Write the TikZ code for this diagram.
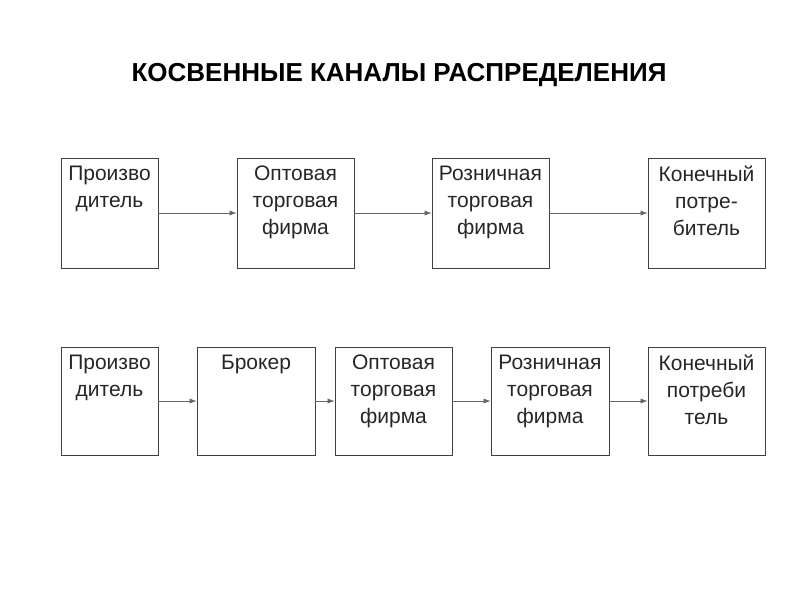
\documentclass[tikz,border=0pt]{standalone}
\usepackage{fontspec}
\setmainfont{Liberation Sans}
\usetikzlibrary{arrows.meta}
\begin{document}
\begin{tikzpicture}[x=1pt,y=-1pt,
  box/.style={draw=black!75,line width=0.8pt,minimum height=110pt,inner sep=0pt},
  txt/.style={anchor=north,align=center,font=\fontsize{21}{27}\selectfont,text=black!85,inner sep=0pt},
  arr/.style={draw=black!60,line width=0.6pt,-{Latex[length=7pt,width=5pt]}}]
\useasboundingbox (0,0) rectangle (800,600);
\node[font=\bfseries\fontsize{26}{30}\selectfont] (title) at (399,75) {КОСВЕННЫЕ КАНАЛЫ РАСПРЕДЕЛЕНИЯ};
% row 1
\node[box,minimum width=97pt] (a1) at (109.5,213) {};
\node[box,minimum width=117pt] (a2) at (295.5,213) {};
\node[box,minimum width=117pt] (a3) at (490.5,213) {};
\node[box,minimum width=117pt] (a4) at (706.5,213) {};
\node[txt] (ta1) at ([yshift=-8pt]a1.north) {Произво\\дитель};
\node[txt] (ta2) at ([yshift=-8pt]a2.north) {Оптовая\\торговая\\фирма};
\node[txt] (ta3) at ([yshift=-8pt]a3.north) {Розничная\\торговая\\фирма};
\node[txt] (ta4) at ([yshift=-8pt]a4.north) {Конечный\\потре-\\битель};
\draw[arr] (a1.east) -- (a2.west);
\draw[arr] (a2.east) -- (a3.west);
\draw[arr] (a3.east) -- (a4.west);
% row 2
\node[box,minimum width=97pt,minimum height=108pt] (b1) at (109.5,401) {};
\node[box,minimum width=118pt,minimum height=108pt] (b2) at (256,401) {};
\node[box,minimum width=117pt,minimum height=108pt] (b3) at (393.5,401) {};
\node[box,minimum width=118pt,minimum height=108pt] (b4) at (550,401) {};
\node[box,minimum width=117pt,minimum height=108pt] (b5) at (706.5,401) {};
\node[txt] (tb1) at ([yshift=-8pt]b1.north) {Произво\\дитель};
\node[txt] (tb2) at ([yshift=-8pt]b2.north) {Брокер};
\node[txt] (tb3) at ([yshift=-8pt]b3.north) {Оптовая\\торговая\\фирма};
\node[txt] (tb4) at ([yshift=-8pt]b4.north) {Розничная\\торговая\\фирма};
\node[txt] (tb5) at ([yshift=-8pt]b5.north) {Конечный\\потреби\\тель};
\draw[arr] (b1.east) -- (b2.west);
\draw[arr] (b2.east) -- (b3.west);
\draw[arr] (b3.east) -- (b4.west);
\draw[arr] (b4.east) -- (b5.west);
\end{tikzpicture}
\end{document}
